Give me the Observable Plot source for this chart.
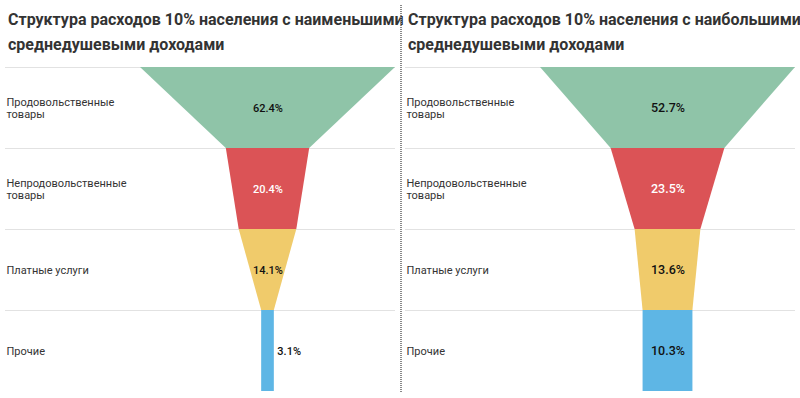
<!DOCTYPE html>
<html>
<head>
<meta charset="utf-8">
<script src="https://cdn.jsdelivr.net/npm/d3@7"></script>
<script src="https://cdn.jsdelivr.net/npm/@observablehq/plot@0.6"></script>
<style>
  html, body { margin: 0; padding: 0; background: #fff; }
  #root { position: relative; width: 800px; height: 398px; overflow: hidden; font-family: Roboto, sans-serif; }
  .panel { position: absolute; top: 0; width: 400px; height: 398px; }
  .title { height: 60px; box-sizing: border-box; padding: 7px 0 0 8px; font: bold 16px/25px Roboto, sans-serif; color: #333; white-space: nowrap; }
  .divider { position: absolute; left: 400px; top: 5px; width: 2px; height: 387px;
    background: repeating-linear-gradient(to bottom, #888 0 1px, transparent 1px 2px); }
  svg { display: block; }
</style>
</head>
<body>
<div id="root"></div>
<script>
const categories = ["Продовольственные\nтовары", "Непродовольственные\nтовары", "Платные услуги", "Прочие"];
const colors = ["#8fc4a8", "#db5356", "#f0cb6b", "#5eb6e5"];
const labelColors = ["#111", "#fff", "#111", "#111"];
const titleLow = "Структура расходов 10% населения с наименьшими<br>среднедушевыми доходами";
const titleHigh = "Структура расходов 10% населения с наибольшими<br>среднедушевыми доходами";
const lowIncome = [62.4, 20.4, 14.1, 3.1];
const highIncome = [52.7, 23.5, 13.6, 10.3];

function funnel(values, labelSize) {
  const max = d3.max(values);
  const segs = [];
  values.forEach((v, i) => {
    const next = i < values.length - 1 ? values[i + 1] : v;
    segs.push({cat: categories[i], y: i, w: v}, {cat: categories[i], y: i + 1, w: next});
  });
  const cells = values.map((v, i) => ({cat: categories[i], v, i, inside: v / max * 255 > 32}));
  return Plot.plot({
    width: 400, height: 338,
    marginLeft: 5, marginRight: 5, marginTop: 7, marginBottom: 7,
    x: {domain: [-max / 2, max / 2], range: [140, 395], axis: null},
    y: {domain: [0, 4], range: [7, 331], axis: null},
    color: {domain: categories, range: colors},
    style: {fontFamily: "Roboto, sans-serif"},
    marks: [
      Plot.ruleY([0, 1, 2, 3], {stroke: "#e2e2e2", strokeWidth: 1}),
      Plot.areaX(segs, {y: "y", x1: d => -d.w / 2, x2: d => d.w / 2, z: "cat", fill: "cat", curve: "linear"}),
      Plot.text(cells, {frameAnchor: "left", y: d => d.i + 0.5, text: "cat", textAnchor: "start", dx: 1,
        fontSize: 11, fill: "#333", lineHeight: 1.1}),
      Plot.text(cells.filter(d => d.inside), {x: 0, y: d => d.i + 0.5, text: d => d.v.toFixed(1) + "%",
        fontSize: labelSize, fontWeight: 500, fill: d => labelColors[d.i]}),
      Plot.text(cells.filter(d => !d.inside), {x: d => d.v / 2, y: d => d.i + 0.5, text: d => d.v.toFixed(1) + "%",
        textAnchor: "start", dx: 3, fontSize: labelSize, fontWeight: 500, fill: d => labelColors[d.i]})
    ]
  });
}

const root = document.getElementById("root");
[[titleLow, lowIncome, 11, 0], [titleHigh, highIncome, 12.5, 400]].forEach(([t, vals, fs, left]) => {
  const p = document.createElement("div");
  p.className = "panel";
  p.style.left = left + "px";
  const h = document.createElement("div");
  h.className = "title";
  h.innerHTML = t;
  p.appendChild(h);
  p.appendChild(funnel(vals, fs));
  root.appendChild(p);
});
const dv = document.createElement("div");
dv.className = "divider";
root.appendChild(dv);
</script>
</body>
</html>
